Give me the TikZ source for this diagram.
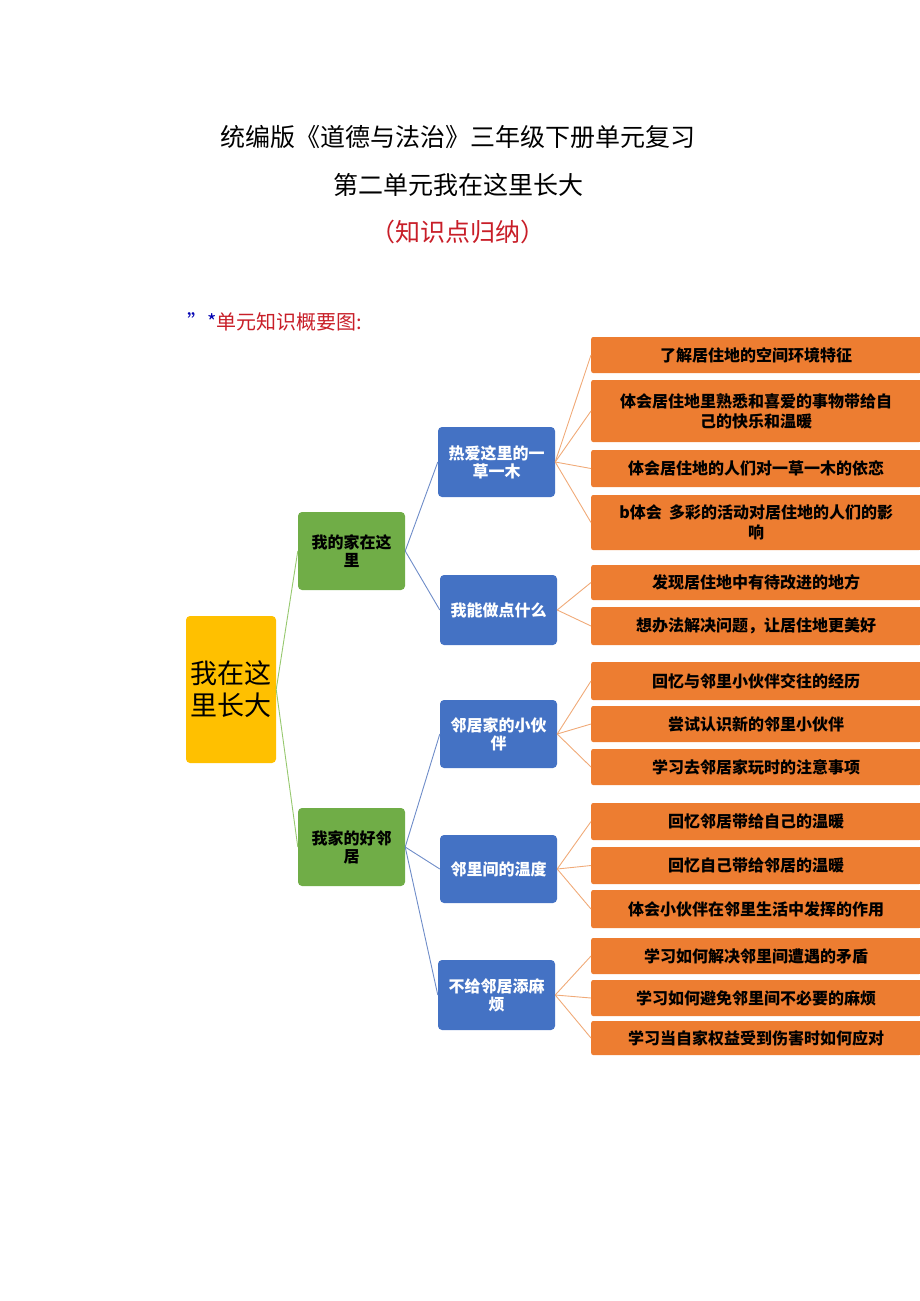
\documentclass[tikz,border=0pt]{standalone}
\usepackage{fontspec}
\setmainfont{Noto Sans CJK SC}
\newfontfamily\cjkb[BoldFont={* Bold}]{Noto Sans CJK SC}
\begin{document}
\begin{tikzpicture}[x=1pt,y=-1pt,
 box/.style={rounded corners=4pt,inner sep=0pt,align=center,font=\bfseries},
 rootbox/.style={box,fill={rgb,255:red,255;green,192;blue,0}},
 gbox/.style={box,fill={rgb,255:red,112;green,173;blue,71},font=\bfseries\fontsize{16}{18}\selectfont},
 bbox/.style={box,fill={rgb,255:red,68;green,114;blue,196},text=white,font=\bfseries\fontsize{16}{18}\selectfont},
 obox/.style={box,fill={rgb,255:red,237;green,125;blue,49},rounded corners=2pt,font=\bfseries\fontsize{16}{20}\selectfont},
 gl/.style={draw={rgb,255:red,150;green,200;blue,110},line width=0.9pt},
 bl/.style={draw={rgb,255:red,110;green,140;blue,200},line width=0.9pt},
 ol/.style={draw={rgb,255:red,240;green,170;blue,120},line width=0.9pt}]
\useasboundingbox (0,0) rectangle (920,1301);
\node[font=\fontsize{25}{28}\selectfont] (t1) at (458,137) {统编版《道德与法治》三年级下册单元复习};
\node[font=\fontsize{25}{28}\selectfont] (t2) at (458,185) {第二单元我在这里长大};
\node[font=\fontsize{25}{28}\selectfont,text={rgb,255:red,200;green,30;blue,40}] (t3) at (458,232) {（知识点归纳）};
\node[anchor=west,inner sep=0pt,font=\fontsize{20}{22}\selectfont,text={rgb,255:red,200;green,30;blue,40}] (t4) at (187,322) {\textcolor{blue!70!black}{"*}单元知识概要图:};
\begin{scope}
\clip (0,0) rectangle (920,1301);
\node[rootbox,minimum width=90pt,minimum height=147pt,font=\fontsize{27}{32}\selectfont] (root) at (231,689.5) {我在这\\里长大};
\node[gbox,minimum width=107pt,minimum height=78pt] (g1) at (351.5,551) {我的家在这\\里};
\node[gbox,minimum width=107pt,minimum height=78pt] (g2) at (351.5,847) {我家的好邻\\居};
\node[bbox,minimum width=117pt,minimum height=70pt] (b1) at (496.5,462) {热爱这里的一\\草一木};
\node[bbox,minimum width=117pt,minimum height=70pt] (b2) at (498.5,610) {我能做点什么};
\node[bbox,minimum width=117pt,minimum height=68pt] (b3) at (498.5,734) {邻居家的小伙\\伴};
\node[bbox,minimum width=117pt,minimum height=68pt] (b4) at (498.5,869) {邻里间的温度};
\node[bbox,minimum width=117pt,minimum height=70pt] (b5) at (496.5,995) {不给邻居添麻\\烦};
\foreach \n/\y/\h/\t in {
 l1/355/36/了解居住地的空间环境特征,
 l2/411/62/{体会居住地里熟悉和喜爱的事物带给自\\己的快乐和温暖},
 l3/468.5/37/体会居住地的人们对一草一木的依恋,
 l4/522.5/55/{b体会\ \ 多彩的活动对居住地的人们的影\\响},
 l5/582.5/35/发现居住地中有待改进的地方,
 l6/626/38/想办法解决问题，让居住地更美好,
 l7/681/38/回忆与邻里小伙伴交往的经历,
 l8/724/36/尝试认识新的邻里小伙伴,
 l9/767/36/学习去邻居家玩时的注意事项,
 l10/821.5/37/回忆邻居带给自己的温暖,
 l11/865.5/37/回忆自己带给邻居的温暖,
 l12/909/38/体会小伙伴在邻里生活中发挥的作用,
 l13/956/36/学习如何解决邻里间遭遇的矛盾,
 l14/998/36/学习如何避免邻里间不必要的麻烦,
 l15/1038/34/学习当自家权益受到伤害时如何应对}
 {\node[obox,minimum width=330pt,minimum height=\h pt,anchor=west] (\n) at (591,\y) {\t};}
\end{scope}
\foreach \c in {g1,g2} \draw[gl] (root.east) -- (\c.west);
\draw[bl] (g1.east) -- (b1.west); \draw[bl] (g1.east) -- (b2.west);
\draw[bl] (g2.east) -- (b3.west); \draw[bl] (g2.east) -- (b4.west); \draw[bl] (g2.east) -- (b5.west);
\foreach \l in {l1,l2,l3,l4} \draw[ol] (b1.east) -- (\l.west);
\foreach \l in {l5,l6} \draw[ol] (b2.east) -- (\l.west);
\foreach \l in {l7,l8,l9} \draw[ol] (b3.east) -- (\l.west);
\foreach \l in {l10,l11,l12} \draw[ol] (b4.east) -- (\l.west);
\foreach \l in {l13,l14,l15} \draw[ol] (b5.east) -- (\l.west);
\end{tikzpicture}
\end{document}
